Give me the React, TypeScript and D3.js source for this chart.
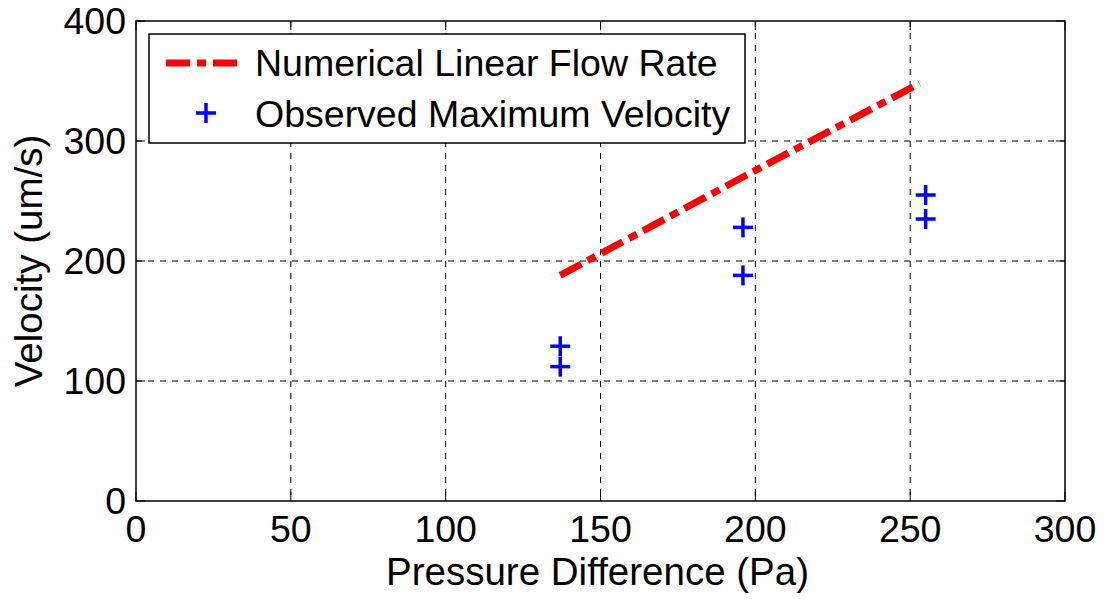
import React from 'react';
import * as d3 from 'd3';

// Numerical linear flow rate (line)
const linePressure = [137, 196, 253];
const lineVelocity = [188, 270, 348];

// Observed maximum velocity (markers)
const obsPressure = [137, 137, 196, 196, 255, 255];
const obsVelocity = [129, 112, 228, 188, 255, 235];

const xTicks = [0, 50, 100, 150, 200, 250, 300];
const yTicks = [0, 100, 200, 300, 400];

const legendLabels = ['Numerical Linear Flow Rate', 'Observed Maximum Velocity'];

const W = 1106;
const H = 599;
const margin = { top: 21, right: 41, bottom: 98, left: 136 };
const FONT = '"Liberation Sans", Arial, sans-serif';

const App = () => {
  const x = d3.scaleLinear().domain([0, 300]).range([margin.left, W - margin.right]);
  const y = d3.scaleLinear().domain([0, 400]).range([H - margin.bottom, margin.top]);

  const linePts = linePressure.map((p, i) => [p, lineVelocity[i]] as [number, number]);
  const line = d3.line<[number, number]>()
    .x(d => x(d[0]))
    .y(d => y(d[1]));

  const [x0, x1] = x.range();
  const [y0, y1] = y.range();
  const tick = 9;
  const plus = (cx: number, cy: number, key: string) => (
    <g key={key} stroke="#0000ff" strokeWidth={3.5}>
      <line x1={cx - 10} x2={cx + 10} y1={cy} y2={cy} />
      <line x1={cx} x2={cx} y1={cy - 10} y2={cy + 10} />
    </g>
  );

  return (
    <svg width={W} height={H} style={{ position: 'absolute', left: 0, top: 0, background: '#fff' }} fontFamily={FONT}>
      <rect x={0} y={0} width={W} height={H} fill="#fff" />

      {/* grid */}
      <g stroke="#000" strokeWidth={1} strokeDasharray="6,6">
        {xTicks.slice(1, -1).map(t => (
          <line key={'gx' + t} x1={x(t)} x2={x(t)} y1={y1} y2={y0} />
        ))}
        {yTicks.slice(1, -1).map(t => (
          <line key={'gy' + t} x1={x0} x2={x1} y1={y(t)} y2={y(t)} />
        ))}
      </g>

      {/* ticks (inside, all four sides) */}
      <g stroke="#000" strokeWidth={1}>
        {xTicks.map(t => (
          <g key={'tx' + t}>
            <line x1={x(t)} x2={x(t)} y1={y0} y2={y0 - tick} />
            <line x1={x(t)} x2={x(t)} y1={y1} y2={y1 + tick} />
          </g>
        ))}
        {yTicks.map(t => (
          <g key={'ty' + t}>
            <line x1={x0} x2={x0 + tick} y1={y(t)} y2={y(t)} />
            <line x1={x1} x2={x1 - tick} y1={y(t)} y2={y(t)} />
          </g>
        ))}
      </g>

      {/* frame */}
      <rect x={x0} y={y1} width={x1 - x0} height={y0 - y1} fill="none" stroke="#000" strokeWidth={1.5} />

      {/* data */}
      <path d={line(linePts) || ''} fill="none" stroke="#ff0000" strokeWidth={7} strokeDasharray="24,7,9,7" />
      {obsPressure.map((p, i) => plus(x(p), y(obsVelocity[i]), 'o' + i))}

      {/* tick labels */}
      <g fontSize={37.5} fill="#000">
        {xTicks.map(t => (
          <text key={'lx' + t} x={x(t)} y={y0 + 41} textAnchor="middle">{t}</text>
        ))}
        {yTicks.map(t => (
          <text key={'ly' + t} x={x0 - 10} y={y(t)} dy="0.35em" textAnchor="end">{t}</text>
        ))}
      </g>

      {/* axis titles */}
      <text x={(x0 + x1) / 2 - 3} y={585} textAnchor="middle" fontSize={38.5}>Pressure Difference (Pa)</text>
      <text transform={`translate(42,${(y0 + y1) / 2}) rotate(-90)`} textAnchor="middle" fontSize={38.5}>Velocity (um/s)</text>

      {/* legend */}
      <g>
        <rect x={149} y={34} width={596} height={109} fill="#fff" stroke="#000" strokeWidth={1.5} />
        <line x1={166} x2={238} y1={63} y2={63} stroke="#ff0000" strokeWidth={7} strokeDasharray="24,7,9,7" />
        {plus(206, 113, 'leg')}
        <text x={255} y={76} fontSize={37.5}>{legendLabels[0]}</text>
        <text x={255} y={127} fontSize={37.5}>{legendLabels[1]}</text>
      </g>
    </svg>
  );
};

export default App;
